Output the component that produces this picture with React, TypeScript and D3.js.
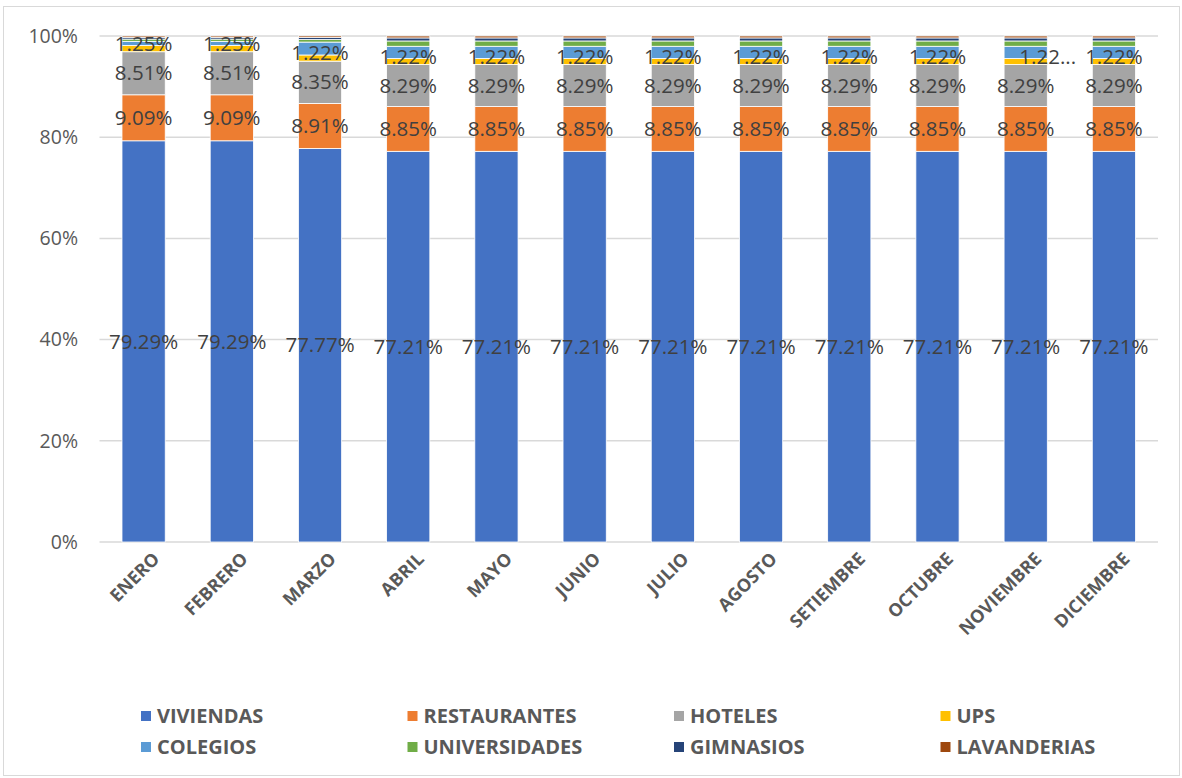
import React from "react";
import * as d3 from "d3";

const months = ["ENERO","FEBRERO","MARZO","ABRIL","MAYO","JUNIO","JULIO","AGOSTO","SETIEMBRE","OCTUBRE","NOVIEMBRE","DICIEMBRE"];
const seriesNames = ["VIVIENDAS","RESTAURANTES","HOTELES","UPS","COLEGIOS","UNIVERSIDADES","GIMNASIOS","LAVANDERIAS"];
const seriesColors = ["#4472C4","#ED7D31","#A5A5A5","#FFC000","#5B9BD5","#70AD47","#264478","#9E480E"];

const viviendas = [79.29,79.29,77.77,77.21,77.21,77.21,77.21,77.21,77.21,77.21,77.21,77.21];
const restaurantes = [9.09,9.09,8.91,8.85,8.85,8.85,8.85,8.85,8.85,8.85,8.85,8.85];
const hoteles = [8.51,8.51,8.35,8.29,8.29,8.29,8.29,8.29,8.29,8.29,8.29,8.29];
const ups = [1.25,1.25,1.22,1.22,1.22,1.22,1.22,1.22,1.22,1.22,1.22,1.22];
const colegios = [0.8,0.8,2.55,2.4,2.4,2.4,2.4,2.4,2.4,2.4,2.4,2.4];
const universidades = [0.45,0.45,0.5,1.05,1.05,1.05,1.05,1.05,1.05,1.05,1.05,1.05];
const gimnasios = [0.35,0.35,0.4,0.6,0.6,0.6,0.6,0.6,0.6,0.6,0.6,0.6];
const lavanderias = [0.26,0.26,0.3,0.38,0.38,0.38,0.38,0.38,0.38,0.38,0.38,0.38];
const yTicks = [0,0.2,0.4,0.6,0.8,1.0];
const labeledSeries = ["VIVIENDAS","RESTAURANTES","HOTELES","UPS"];

const allSeries = [viviendas,restaurantes,hoteles,ups,colegios,universidades,gimnasios,lavanderias];

export default function App() {
  const W = 1182, H = 778;
  const x0 = 99.5, x1 = 1158, yTop = 36, yBot = 542;
  const x = d3.scaleBand<string>().domain(months).range([x0, x1]).paddingInner(0.51).paddingOuter(0.255);
  const y = d3.scaleLinear().domain([0, 1]).range([yBot, yTop]);

  const rows = months.map((m, i) => {
    const r: any = { month: m };
    seriesNames.forEach((s, k) => { r[s] = allSeries[k][i] / 100; });
    return r;
  });
  const stack = d3.stack<any>().keys(seriesNames).offset(d3.stackOffsetExpand);
  const layers = stack(rows);

  const font = "'Open Sans', 'Noto Sans', sans-serif";
  const legendFont = "'Open Sans', 'Noto Sans', sans-serif";

  return (
    <div style={{ position: "absolute", left: 0, top: 0 }}>
      <svg width={W} height={H} style={{ display: "block", background: "#fff" }}>
        <rect x={3.5} y={6.5} width={1176} height={769} fill="#fff" stroke="#d9d9d9" strokeWidth={1} />
        {yTicks.map((t) => (
          <g key={t}>
            <line x1={x0} x2={x1} y1={y(t)} y2={y(t)} stroke="#d9d9d9" strokeWidth={1.5} />
            <text x={78} y={y(t)} dy="0.35em" textAnchor="end" fontSize={19.5} fill="#595959" fontFamily={font}>
              {d3.format(".0%")(t)}
            </text>
          </g>
        ))}
        {layers.map((layer, k) => (
          <g key={layer.key} fill={seriesColors[k]}>
            {layer.map((d, i) => (
              <rect key={i} x={x(months[i])} width={x.bandwidth()} y={y(d[1])} height={Math.max(0, y(d[0]) - y(d[1]))}
                stroke="#fff" strokeWidth={0.8} />
            ))}
          </g>
        ))}
        {layers.filter((l) => labeledSeries.includes(l.key)).map((layer) => (
          <g key={"lbl" + layer.key}>
            {layer.map((d, i) => {
              const val = allSeries[seriesNames.indexOf(layer.key)][i];
              const cx = (x(months[i]) as number) + x.bandwidth() / 2;
              let cy = (y(d[0]) + y(d[1])) / 2;
              let txt = val.toFixed(2) + "%";
              let dx = 0;
              if (layer.key === "UPS") {
                cy -= 5;
                if (months[i] === "NOVIEMBRE") { txt = val.toFixed(2).slice(0, 4) + "..."; dx = 22; }
              }
              return (
                <text key={i} x={cx + dx} y={cy} dy="0.35em" textAnchor="middle" fontSize={20.5} fill="#404040" fontFamily={font}>
                  {txt}
                </text>
              );
            })}
          </g>
        ))}
        {months.map((m) => {
          const cx = (x(m) as number) + x.bandwidth() / 2;
          return (
            <text key={m} transform={`translate(${cx + 17},${560}) rotate(-45)`} textAnchor="end" fontSize={18} fontWeight="bold"
              fill="#595959" fontFamily={font}>
              {m}
            </text>
          );
        })}
        {seriesNames.map((s, k) => {
          const col = k % 4, row = Math.floor(k / 4);
          const lx = 141 + col * 266.5, ly = 716 + row * 31;
          return (
            <g key={s}>
              <rect x={lx} y={ly - 5} width={10} height={10} fill={seriesColors[k]} />
              <text x={lx + 16} y={ly} dy="0.35em" fontSize={20} fontWeight="bold" fill="#595959" fontFamily={legendFont}>{s}</text>
            </g>
          );
        })}
      </svg>
    </div>
  );
}
